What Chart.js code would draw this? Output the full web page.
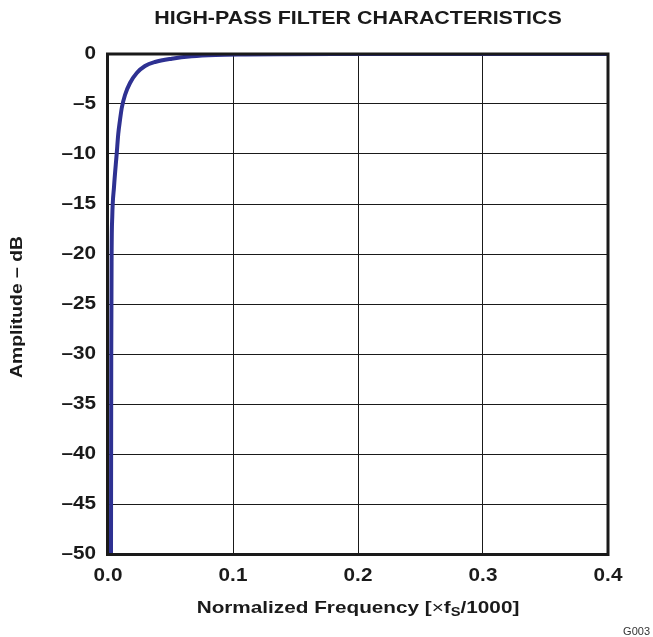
<!DOCTYPE html>
<html>
<head>
<meta charset="utf-8">
<script src="https://cdn.jsdelivr.net/npm/chart.js@4"></script>
<style>
  body { margin: 0; background: #fff; }
  canvas { display: block; }
</style>
</head>
<body>
<canvas id="filterChart" width="653" height="637"></canvas>
<script>
// values
const freq = [0.0024, 0.0026, 0.0029, 0.0034, 0.0048, 0.007, 0.0082, 0.0096, 0.011, 0.0136, 0.0176, 0.023, 0.0296, 0.0376, 0.051, 0.067, 0.086, 0.11, 0.14, 0.18, 0.25, 0.4];
const amplitude = [-50, -30, -20, -16.3, -13.3, -9.9, -8.0, -6.6, -5.4, -4.1, -2.9, -1.9, -1.2, -0.8, -0.47, -0.23, -0.1, -0.05, -0.02, 0, 0, 0];
const yTicks = [0, -5, -10, -15, -20, -25, -30, -35, -40, -45, -50];
const xTicks = [0.0, 0.1, 0.2, 0.3, 0.4];

const chartTitle = "HIGH-PASS FILTER CHARACTERISTICS";
const yTitle = "Amplitude \u2013 dB";
const figId = "G003";

const FONT = "'Liberation Sans', Arial, sans-serif";
const INK = "#1a1a1a";

// the reference lettering is a bit wider than Arial, so stretch it horizontally
function stretchedText(ctx, text, x, y, font, align, sx) {
    ctx.save();
    ctx.translate(x, y);
    ctx.scale(sx, 1);
    ctx.font = font;
    ctx.textAlign = align;
    ctx.fillText(text, 0, 0);
    ctx.restore();
}

// draws titles, tick labels, frame and the subscripted x axis title
const decorations = {
    id: 'decorations',
    afterDraw(chart) {
        const ctx = chart.ctx;
        const area = chart.chartArea;
        const cx = (area.left + area.right) / 2;
        const xs = chart.scales.x, ys = chart.scales.y;
        ctx.save();

        // frame
        ctx.strokeStyle = INK;
        ctx.lineWidth = 3;
        ctx.strokeRect(area.left - 0.5, area.top, area.right - area.left + 0.5, area.bottom - area.top + 0.5);

        ctx.fillStyle = INK;
        ctx.textBaseline = "middle";
        stretchedText(ctx, chartTitle, cx, 19, "bold 18px " + FONT, "center", 1.19);

        // tick labels at the scale positions
        const tickFont = "bold 18px " + FONT;
        ys.ticks.forEach(t => {
            const label = String(t.value).replace('-', '\u2013');
            stretchedText(ctx, label, 96, ys.getPixelForValue(t.value), tickFont, "right", 1.15);
        });
        xs.ticks.forEach(t => {
            stretchedText(ctx, t.value.toFixed(1), xs.getPixelForValue(t.value), 576, tickFont, "center", 1.15);
        });

        // x axis title with subscript S
        const sx = 1.22;
        const parts = [
            { t: "Normalized Frequency [", f: "bold 17px " + FONT, dy: 0 },
            { t: "\u00d7", f: "17px " + FONT, dy: 0 },
            { t: "f", f: "bold 17px " + FONT, dy: 0 },
            { t: "S", f: "bold 12px " + FONT, dy: 5 },
            { t: "/1000]", f: "bold 17px " + FONT, dy: 0 }
        ];
        let total = 0;
        parts.forEach(p => { ctx.font = p.f; p.w = ctx.measureText(p.t).width; total += p.w; });
        ctx.save();
        ctx.translate(cx, 608);
        ctx.scale(sx, 1);
        ctx.textAlign = "left";
        let x = -total / 2;
        parts.forEach(p => {
            ctx.font = p.f;
            ctx.fillText(p.t, x, p.dy);
            x += p.w;
        });
        ctx.restore();

        // y axis title
        ctx.save();
        ctx.translate(17, 307);
        ctx.rotate(-Math.PI / 2);
        stretchedText(ctx, yTitle, 0, 0, "bold 17px " + FONT, "center", 1.14);
        ctx.restore();

        // figure id
        ctx.fillStyle = "#333";
        stretchedText(ctx, figId, 650, 632, "11px " + FONT, "right", 1.0);
        ctx.restore();
    }
};

new Chart(document.getElementById("filterChart"), {
    type: 'line',
    data: {
        datasets: [{
            data: freq.map((f, i) => ({ x: f, y: amplitude[i] })),
            borderColor: "#2e3192",
            borderWidth: 4,
            pointRadius: 0,
            cubicInterpolationMode: 'monotone',
            fill: false
        }]
    },
    options: {
        responsive: false,
        animation: false,
        layout: { padding: { top: 54, right: 45, bottom: 0, left: 0 } },
        plugins: {
            legend: { display: false },
            tooltip: { enabled: false },
            title: { display: false }
        },
        scales: {
            x: {
                type: 'linear',
                min: 0,
                max: 0.4,
                afterFit: s => { s.height = 83; },
                afterBuildTicks: s => { s.ticks = xTicks.map(v => ({ value: v })); },
                grid: { color: INK, lineWidth: 1, drawTicks: false },
                border: { display: false },
                ticks: { display: false }
            },
            y: {
                min: -50,
                max: 0,
                afterFit: s => { s.width = 108; },
                afterBuildTicks: s => { s.ticks = yTicks.map(v => ({ value: v })); },
                grid: { color: INK, lineWidth: 1, drawTicks: false },
                border: { display: false },
                ticks: { display: false }
            }
        }
    },
    plugins: [decorations]
});
</script>
</body>
</html>
